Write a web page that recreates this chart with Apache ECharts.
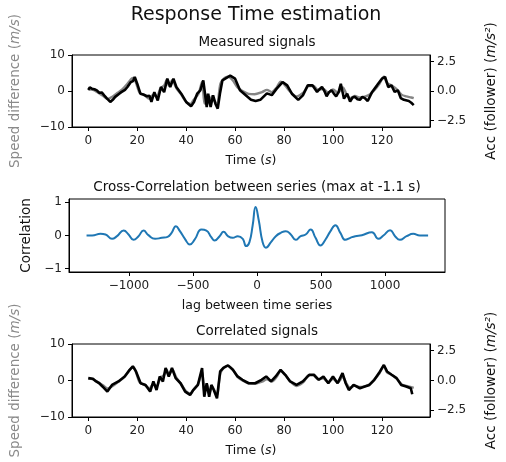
<!DOCTYPE html>
<html>
<head>
<meta charset="utf-8">
<script src="https://cdn.jsdelivr.net/npm/echarts@6/dist/echarts.min.js"></script>
<style>
  html, body { margin: 0; padding: 0; background: #fff; }
  #main { width: 506px; height: 462px; }
</style>
</head>
<body>
<div id="main"></div>
<script>
// measured signals: acc of the follower (m/s^2), black
const timeMeasured = [0, 0.6, 1.1, 1.5, 2, 2.5, 3, 3.5, 4.5, 5, 5.5, 6.5, 7.5, 9, 10, 11, 12.5, 13.5, 15, 16, 17.4, 18.3, 19, 20,
  21.3, 22.5, 24, 25, 25.8, 27, 28.4, 29.7, 31, 32.3, 33.5, 34.8, 36, 38, 40, 42, 43.2, 44.5, 45.8, 47,
  47.7, 48.4, 49, 50, 51, 52, 52.9, 53.8, 54.8, 56, 58, 60, 62, 64, 66.5, 68.4, 70.3, 73, 75, 77,
  79.4, 81.3, 83.2, 85.8, 87.7, 89.7, 91.6, 93.5, 94.5, 95.5, 96.5, 97.4, 98.4, 99.4, 100.3, 101.3, 102.3, 103.2, 104.5, 105.8, 107, 108, 109, 110, 111, 112, 113, 114.2,
  116, 118, 120, 121.3, 122.6, 123.9, 125.2, 126.5, 127.7, 129, 131, 132, 133];
const accMeasured = [0.1, 0.3, 0.15, 0.2, 0.05, 0.15, 0.0, 0.05, -0.15, -0.05, -0.12, -0.37, -0.6, -0.93, -0.75, -0.5, -0.25, -0.1, 0.1, 0.34, 0.76, 0.85, 1.19, 0.62,
  -0.23, -0.3, -0.45, -0.4, -0.93, -0.1, -0.8, 0.34, -0.1, 1.05, 0.34, 1.05, 0.34, -0.23, -0.93, -1.3, -0.93, -0.23, 0.05, 0.9,
  1.05, -1.36, -0.23, -1.36, -0.37, -1.1, -1.5, -0.23, 0.9, 1.05, 1.3, 1.05, 0.06, -0.3, -0.75, -0.85, -0.75, -0.2, -0.35, 0.2,
  0.76, 0.48, -0.23, -0.75, -0.37, 0.48, 0.48, -0.08, 0.15, 0.34, 0.0, -0.45, -0.1, 0.06, -0.2, -0.45, -0.1, 0.62, -0.65, -0.23, -0.9, -0.55, -0.5, -0.7, -0.75, -0.5, -0.6, -0.85,
  -0.08, 0.48, 1.05, 1.19, 0.34, 0.48, -0.08, 0.06, -0.6, -0.75, -0.85, -1.0, -1.2];

// correlated signals: acc shifted by the estimated lag, black
const timeCorrelated = [0, 1.9, 3.2, 4.5, 5.8, 7.8, 9.7, 12.3, 14.9, 16.9, 18.2, 19.5, 21.4, 23.4, 25.3, 26.6, 27.9, 29.2, 30.5, 31.6,
  32.9, 34.2, 35.7, 37.7, 39.6, 41.6, 42.9, 44.8, 46.5, 47.4, 48.4, 49.4, 50.3, 51.3, 52.6, 53.9, 55.2, 57.1, 59.1, 61,
  63, 65.6, 68.2, 70.8, 72.7, 74.7, 76.6, 78.6, 80.5, 82.5, 85.1, 87.7, 90.3, 92.2, 94.2, 96.1, 98.1, 100, 101.9, 103.9,
  105.2, 106.5, 108.4, 111, 113, 114.9, 116.9, 118.8, 120.8, 122.1, 124, 126, 127.9, 129.9, 131.8, 132.4];
const accCorrelated = [0.2, 0.14, -0.08, -0.23, -0.5, -0.93, -0.37, -0.08, 0.34, 0.9, 1.19, 0.76, -0.23, -0.37, -0.93, -0.08, -0.8, 0.34, -0.08, 1.05,
  0.34, 1.05, 0.2, -0.23, -0.93, -1.21, -0.8, -0.37, 1.05, -1.36, -0.23, -1.36, -0.37, -0.8, -1.5, 0.76, 1.05, 1.27, 0.9, 0.34,
  0.06, -0.23, -0.23, 0.06, 0.34, -0.08, 0.34, 0.9, 0.48, -0.08, -0.37, -0.08, 0.48, 0.48, 0.06, 0.34, -0.23, 0.34, -0.23, 0.62,
  -0.23, -0.8, -0.37, -0.65, -0.5, -0.37, 0.06, 0.62, 1.3, 0.76, 0.48, 0.2, -0.37, -0.5, -0.65, -1.15];

// speed difference (m/s), grey, same in both panels
const timeSpeed = [0, 2, 4, 6, 8, 10, 12, 14, 16, 17.5, 18.5, 19.5, 21, 23, 25, 26.5, 28, 29.5, 31, 32,
  33, 34.3, 36, 38, 40, 41.8, 43, 45, 46.5, 47.5, 48.5, 49.5, 50.5, 52.5, 54, 55.5, 57, 59, 61, 63,
  65.5, 68, 71, 73, 75, 77, 78.6, 80.5, 82.5, 85, 88, 90, 92, 94, 96, 98, 100, 102, 104, 105.5,
  107, 109, 111, 113, 115, 117, 119, 120.8, 122, 124, 126, 128, 130, 132, 133];
const speedDiff = [0.5, 0.3, -0.5, -1.3, -2.2, -1.5, -0.5, 0.5, 2, 3.3, 3.6, 2.3, -0.5, -1.2, -2.2, -1, -1.5, 0.8, 1.5, 3,
  1.5, 3, 0.8, -1, -3, -3.6, -2.5, -0.8, 2.5, -3.5, -1, -3.5, -1.5, -4, 2, 3.5, 4, 3, 1, 0,
  -0.8, -0.9, -0.3, 0.3, -0.3, 1, 2.6, 1.5, -0.2, -1.5, -0.4, 1.4, 1.4, 0.3, 0.6, -0.5, 0.4, -0.5, 1, -0.8,
  -2, -1.4, -1.8, -1.6, -1, 0.3, 2, 4, 2.3, 1.5, 0.5, -1, -1.5, -1.8, -2];

// cross-correlation
const lagSamples = [-1331, -1287, -1222, -1183, -1132, -1093, -1041, -1003, -964, -925, -886, -848, -796, -744, -698, -667, -633, -602, -563, -525,
  -486, -434, -395, -357, -331, -292, -261, -227, -189, -150, -111, -85, -59, -34, -11, 14, 44, 70, 109, 147,
  186, 225, 264, 302, 341, 380, 419, 457, 496, 535, 574, 612, 651, 690, 729, 767, 819, 897, 948, 987,
  1039, 1078, 1116, 1168, 1220, 1271, 1336];
const correlation = [0, 0, 0.05, 0.03, -0.1, -0.02, 0.15, 0.03, -0.13, -0.02, 0.15, 0.01, -0.1, -0.07, -0.04, 0.08, 0.28, 0.13, -0.1, -0.27,
  -0.12, 0.18, 0.15, -0.05, -0.15, -0.02, 0.11, -0.02, -0.07, -0.02, -0.1, -0.32, -0.2, 0.3, 0.86, 0.45, -0.2, -0.37, -0.2, -0.02,
  0.08, 0.13, 0.03, -0.13, -0.02, 0.03, 0.18, -0.07, -0.3, -0.12, 0.13, 0.31, 0.08, -0.13, -0.07, -0.02, 0.01, 0.1, -0.1, 0,
  0.16, -0.02, -0.13, -0.02, 0.05, 0, 0];

const timeTicks = [0, 20, 40, 60, 80, 100, 120];
const lagTicks = [-1000, -500, 0, 500, 1000];
const speedTicks = [-10, 0, 10];
const accTicks = [-2.5, 0, 2.5];
const corrTicks = [-1, 0, 1];

const FONT = "DejaVu Sans";
const minus = (s) => String(s).replace("-", "\u2212");
const pairs = (xs, ys) => xs.map((x, i) => [x, ys[i]]);

function xAx(grid, min, max, ticks, name) {
  return {
    type: "value", gridIndex: grid, min: min, max: max,
    name: name, nameLocation: "middle", nameGap: 27,
    nameTextStyle: { color: "#111", fontSize: 12.5, fontFamily: FONT, rich: { i: { fontStyle: "italic", fontSize: 12.5, fontFamily: FONT, color: "#111" } } },
    axisLine: { show: true, onZero: false, lineStyle: { color: "#000", width: 1 } },
    axisTick: { show: true, length: 4, customValues: ticks, lineStyle: { color: "#000" } },
    axisLabel: { customValues: ticks, margin: 8, color: "#222", fontSize: 12, fontFamily: FONT, formatter: minus },
    splitLine: { show: false },
  };
}

function yAx(grid, pos, min, max, ticks, name, nameColor, gap, fmt) {
  return {
    type: "value", gridIndex: grid, position: pos, min: min, max: max,
    name: name, nameLocation: "middle", nameGap: gap,
    nameTextStyle: { color: nameColor, fontSize: 13.5, fontFamily: FONT, rich: { i: { fontStyle: "italic", fontSize: 13.5, fontFamily: FONT, color: nameColor } } },
    axisLine: { show: true, onZero: false, lineStyle: { color: "#000", width: 1 } },
    axisTick: { show: true, length: 4, customValues: ticks, lineStyle: { color: "#000" } },
    axisLabel: { customValues: ticks, margin: 7, color: "#222", fontSize: 12, fontFamily: FONT, formatter: fmt },
    splitLine: { show: false },
  };
}

const accFmt = (v) => minus(Number(v).toFixed(1));

const titleStyle = (size) => ({ fontSize: size, fontWeight: "normal", color: "#111", fontFamily: FONT });

const myChart = echarts.init(document.getElementById("main"));
const option = {
  animation: false,
  backgroundColor: "#fff",
  title: [
    { text: "Response Time estimation", left: 256, top: 15, padding: 0, textAlign: "center", textVerticalAlign: "middle", textStyle: titleStyle(19) },
    { text: "Measured signals", left: 257, top: 42, padding: 0, textAlign: "center", textVerticalAlign: "middle", textStyle: titleStyle(13.5) },
    { text: "Cross-Correlation between series (max at -1.1 s)", left: 257, top: 187, padding: 0, textAlign: "center", textVerticalAlign: "middle", textStyle: titleStyle(13.5) },
    { text: "Correlated signals", left: 257, top: 331, padding: 0, textAlign: "center", textVerticalAlign: "middle", textStyle: titleStyle(13.5) },
  ],
  grid: [
    { left: 69, top: 55, width: 376, height: 72, show: true, borderColor: "#000", borderWidth: 1 },
    { left: 69, top: 199, width: 376, height: 73, show: true, borderColor: "#000", borderWidth: 1 },
    { left: 69, top: 344, width: 376, height: 73, show: true, borderColor: "#000", borderWidth: 1 },
  ],
  xAxis: [
    xAx(0, -6.65, 139.65, timeTicks, "Time ({i|s})"),
    xAx(1, -1468, 1468, lagTicks, "lag between time series"),
    xAx(2, -6.65, 139.65, timeTicks, "Time ({i|s})"),
  ],
  yAxis: [
    yAx(0, "left", -10, 10, speedTicks, "Speed difference ({i|m/s})", "#8a8a8a", 50, minus),
    yAx(0, "right", -3.06, 3.06, accTicks, "Acc (follower) ({i|m/s²})", "#111", 54, accFmt),
    yAx(1, "left", -1.1, 1.1, corrTicks, "Correlation", "#111", 34, minus),
    yAx(2, "left", -10, 10, speedTicks, "Speed difference ({i|m/s})", "#8a8a8a", 50, minus),
    yAx(2, "right", -3.06, 3.06, accTicks, "Acc (follower) ({i|m/s²})", "#111", 54, accFmt),
  ],
  series: [
    { type: "line", xAxisIndex: 0, yAxisIndex: 0, data: pairs(timeSpeed, speedDiff), showSymbol: false, smooth: 0.3,
      lineStyle: { color: "rgba(120,120,120,0.9)", width: 2.4 } },
    { type: "line", xAxisIndex: 0, yAxisIndex: 1, data: pairs(timeMeasured, accMeasured), showSymbol: false,
      lineStyle: { color: "#000", width: 2.6 } },
    { type: "line", xAxisIndex: 1, yAxisIndex: 2, data: pairs(lagSamples, correlation), showSymbol: false, smooth: 0.5,
      lineStyle: { color: "#1f77b4", width: 2 } },
    { type: "line", xAxisIndex: 2, yAxisIndex: 3, data: pairs(timeSpeed, speedDiff), showSymbol: false, smooth: 0.3,
      lineStyle: { color: "rgba(120,120,120,0.9)", width: 2.4 } },
    { type: "line", xAxisIndex: 2, yAxisIndex: 4, data: pairs(timeCorrelated, accCorrelated), showSymbol: false,
      lineStyle: { color: "#000", width: 2.6 } },
  ],
};
myChart.setOption(option);
</script>
</body>
</html>
